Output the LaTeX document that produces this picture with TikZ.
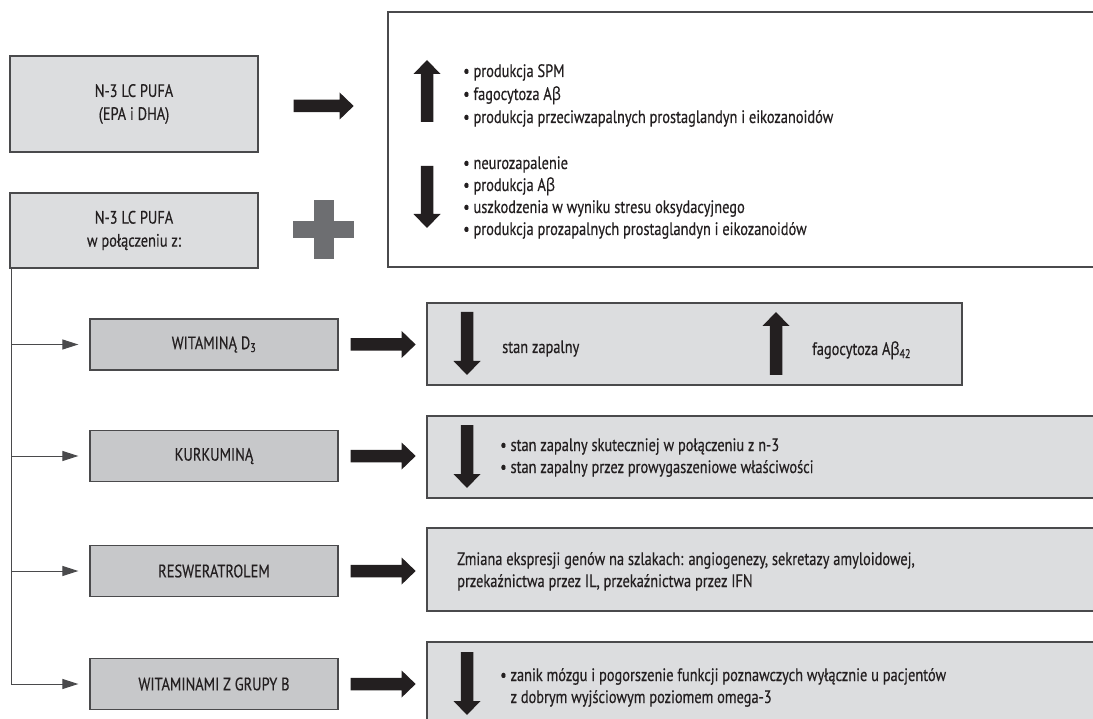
\documentclass[tikz,border=0pt]{standalone}
\usepackage{fontspec}
\setmainfont{PT Sans}[FakeStretch=0.8,FakeBold=0.4]
\newfontfamily\grk{Open Sans}[FakeStretch=0.8,FakeBold=0.4]
\newcommand\bet{{\grk β}}
\usetikzlibrary{arrows.meta}
\definecolor{bord}{HTML}{4A4A4C}
\definecolor{lightfill}{HTML}{DCDDDF}
\definecolor{midfill}{HTML}{C7C8CA}
\definecolor{ink}{HTML}{231F20}
\definecolor{plusgray}{HTML}{6D6E71}
\newcommand\fs{\fontsize{18}{23}\selectfont}
\tikzset{
  box/.style={draw=bord, line width=1.3pt, inner sep=0pt, align=center, text=ink, font=\fs},
  topbox/.style={box, fill=lightfill, minimum width=248pt},
  leftbox/.style={box, fill=midfill, minimum width=248pt, minimum height=51pt},
  resbox/.style={box, fill=lightfill},
  bigbox/.style={box, fill=white},
  txt/.style={anchor=base west, inner sep=0pt, text=ink, font=\fs},
  branch/.style={draw=bord, line width=1pt, -{Triangle[length=16pt,width=10pt]}, shorten >=11pt},
  pics/fatR/.style={code={\fill[ink] (0,-6.25) -- (#1-14,-6.25) -- (#1-14,-13.5) -- (#1,0) -- (#1-14,13.5) -- (#1-14,6.25) -- (0,6.25) -- cycle;}}
}
\begin{document}
\begin{tikzpicture}[x=1pt,y=-1pt]
\useasboundingbox (0,0) rectangle (1093,719);
% top left boxes
\node[topbox, minimum height=96pt] (pufa) at (134,104) {N-3 LC PUFA\\(EPA i DHA)};
\node[topbox, minimum height=75pt] (comb) at (134,230.5) {N-3 LC PUFA\\w połączeniu z:};
% big effects box
\node[bigbox, minimum width=707pt, minimum height=255pt] (eff) at (741.5,139.5) {};
% arrow and plus
\pic at ([xshift=35pt]pufa.east |- 0,106) {fatR=60};
\fill[plusgray] (313.5,200) rectangle (333.5,259);
\fill[plusgray] (293,221) rectangle (354,238);
% effects content
\pic[rotate=90] at (427,122) {fatR=62};
\pic[rotate=-90] at (427,166) {fatR=62};
\node[txt] (e1) at (463,77) {• produkcja SPM};
\node[txt] (e2) at (463,100) {• fagocytoza A\bet};
\node[txt] (e3) at (463,123) {• produkcja przeciwzapalnych prostaglandyn i eikozanoidów};
\node[txt] (e4) at (463,169) {• neurozapalenie};
\node[txt] (e5) at (463,191) {• produkcja A\bet};
\node[txt] (e6) at (463,213) {• uszkodzenia w wyniku stresu oksydacyjnego};
\node[txt] (e7) at (463,235) {• produkcja prozapalnych prostaglandyn i eikozanoidów};
% left boxes
\node[leftbox] (vitd) at (214,344.5) {WITAMINĄ D\textsubscript{3}};
\node[leftbox] (kurk) at (214,456) {KURKUMINĄ};
\node[leftbox] (resw) at (214,571) {RESWERATROLEM};
\node[leftbox] (vitb) at (214,684) {WITAMINAMI Z GRUPY B};
% trunk and branches
\coordinate (trunk) at ([xshift=2pt]comb.south west);
\draw[draw=bord, line width=1pt] (trunk) -- (trunk |- vitb.west);
\draw[branch] (trunk |- vitd.west) -- (vitd.west);
\draw[branch] (trunk |- kurk.west) -- (kurk.west);
\draw[branch] (trunk |- resw.west) -- (resw.west);
\draw[branch] (trunk |- vitb.west) -- (vitb.west);
% result boxes
\node[resbox, minimum width=535pt, minimum height=82pt] (r1) at (694.5,344) {};
\node[resbox, minimum width=669pt, minimum height=82pt] (r2) at (761.5,457) {};
\node[resbox, minimum width=669pt, minimum height=83pt] (r3) at (761.5,569.5) {};
\node[resbox, minimum width=669pt, minimum height=80pt] (r4) at (761.5,682) {};
% fat arrows
\pic at ([xshift=12pt]vitd.east) {fatR=65};
\pic at ([xshift=12pt]kurk.east) {fatR=65};
\pic at ([xshift=12pt]resw.east) {fatR=65};
\pic at ([xshift=12pt]vitb.east) {fatR=65};
% r1
\pic[rotate=-90] at (467,312) {fatR=63};
\pic[rotate=90] at (776,375) {fatR=63};
\node[txt] (t1) at (502,353) {stan zapalny};
\node[txt] (t2) at (812,355) {fagocytoza A\bet\textsubscript{42}};
% r2
\pic[rotate=-90] at (467,425) {fatR=63};
\node[txt] (t3) at (500,451) {• stan zapalny skuteczniej w połączeniu z n-3};
\node[txt] (t4) at (500,473) {• stan zapalny przez prowygaszeniowe właściwości};
% r3
\node[txt] (t5) at (457,565) {Zmiana ekspresji genów na szlakach: angiogenezy, sekretazy amyloidowej,};
\node[txt] (t6) at (457,587) {przekaźnictwa przez IL, przekaźnictwa przez IFN};
% r4
\pic[rotate=-90] at (467,652) {fatR=63};
\node[txt] (t7) at (500,681) {• zanik mózgu i pogorszenie funkcji poznawczych wyłącznie u pacjentów};
\node[txt] (t8) at (500,703) {\phantom{•} z dobrym wyjściowym poziomem omega-3};
\end{tikzpicture}
\end{document}
